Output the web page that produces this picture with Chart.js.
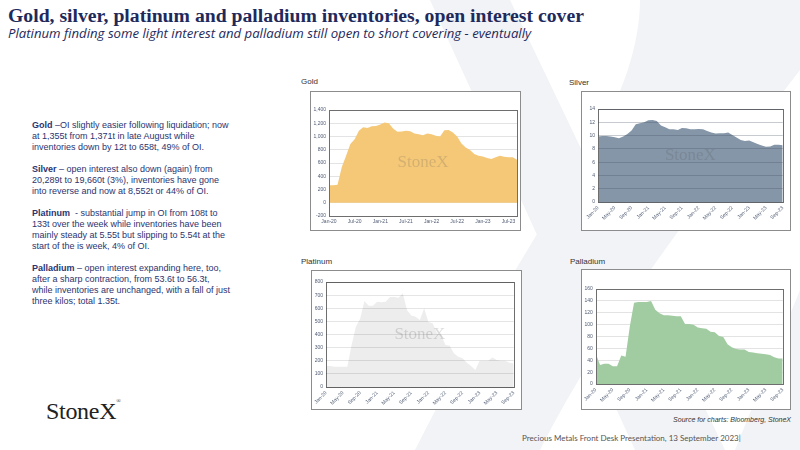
<!DOCTYPE html>
<html>
<head>
<meta charset="utf-8">
<script src="https://cdn.jsdelivr.net/npm/chart.js@4.4.0/dist/chart.umd.min.js"></script>
<style>
    body { margin: 0; width: 800px; height: 450px; overflow: hidden; background: #fff; position: relative; font-family: "Liberation Sans", Arial, sans-serif; }
    #bg { position: absolute; left: 0; top: 0; }
    .title { position: absolute; left: 8px; top: 4px; line-height: 20px; font: bold 19.7px "Liberation Serif", serif; color: #1e2a5c; white-space: nowrap; }
    .sub { position: absolute; left: 8px; top: 24px; line-height: 15px; font: italic 13.2px "Open Sans", sans-serif; color: #1e2a5c; white-space: nowrap; }
    .notes { position: absolute; left: 32px; top: 120px; font-size: 9px; line-height: 11px; color: #2b3470; white-space: nowrap; }
    .notes p { margin: 0 0 11px 0; }
    .lbl { position: absolute; font-size: 8px; color: #333; }
    .frame { position: absolute; border: 1px solid #8c8c8c; background: #fff; }
    .frame canvas { position: absolute; left: 0; top: 0; }
    .logo { position: absolute; left: 46px; top: 398px; font: 24px "Liberation Serif", serif; color: #222; letter-spacing: -0.3px; }
    .logo sup { font-size: 6px; vertical-align: top; }
    .source { position: absolute; right: 9px; top: 416px; font: italic 7px "Liberation Sans", sans-serif; color: #333; }
    .footer { position: absolute; left: 522px; top: 433px; font: 8px Lato, sans-serif; color: #555; }
</style>
</head>
<body>
<svg id="bg" width="800" height="450">
    <polygon points="430,0 510,0 725,450 635,450" fill="#f2f3f6"/>
    <path d="M640 0 L800 0 L800 70 C700 200 600 330 540 450 L415 450 C480 320 560 200 600 130 C625 90 640 40 640 0 Z" fill="#f2f3f6"/>
    <polygon points="800,290 800,450 735,450" fill="#f2f3f6"/>
</svg>

<div class="title">Gold, silver, platinum and palladium inventories, open interest cover</div>
<div class="sub">Platinum finding some light interest and palladium still open to short covering - eventually</div>

<div class="notes">
    <p><b>Gold</b> –OI slightly easier following liquidation; now<br>at 1,355t from 1,371t in late August while<br>inventories down by 12t to 658t, 49% of OI.</p>
    <p><b>Silver</b> – open interest also down (again) from<br>20,289t to 19,660t (3%), inventories have gone<br>into reverse and now at 8,552t or 44% of OI.</p>
    <p><b>Platinum</b>&nbsp; - substantial jump in OI from 108t to<br>133t over the week while inventories have been<br>mainly steady at 5.55t but slipping to 5.54t at the<br>start of the is week, 4% of OI.</p>
    <p><b>Palladium</b> – open interest expanding here, too,<br>after a sharp contraction, from 53.6t to 56.3t,<br>while inventories are unchanged, with a fall of just<br>three kilos; total 1.35t.</p>
</div>

<div class="lbl" style="left:301px;top:77px">Gold</div>
<div class="lbl" style="left:569px;top:78px">Silver</div>
<div class="lbl" style="left:301px;top:257px">Platinum</div>
<div class="lbl" style="left:570px;top:257px">Palladium</div>

<div class="frame" style="left:310px;top:91px;width:209px;height:138px"><canvas id="goldChart" width="209" height="138"></canvas></div>
<div class="frame" style="left:581px;top:91px;width:208px;height:138px"><canvas id="silverChart" width="208" height="138"></canvas></div>
<div class="frame" style="left:311px;top:270px;width:209px;height:138px"><canvas id="platinumChart" width="209" height="138"></canvas></div>
<div class="frame" style="left:581px;top:269px;width:208px;height:139px"><canvas id="palladiumChart" width="208" height="139"></canvas></div>

<div class="logo">StoneX<sup>®</sup></div>
<div class="source">Source for charts: Bloomberg, StoneX</div>
<div class="footer">Precious Metals Front Desk Presentation, 13 September 2023|</div>

<script>
    const months = [
        "Jan-20", "Feb-20", "Mar-20", "Apr-20", "May-20", "Jun-20", "Jul-20", "Aug-20", "Sep-20", "Oct-20", "Nov-20", "Dec-20",
        "Jan-21", "Feb-21", "Mar-21", "Apr-21", "May-21", "Jun-21", "Jul-21", "Aug-21", "Sep-21", "Oct-21", "Nov-21", "Dec-21",
        "Jan-22", "Feb-22", "Mar-22", "Apr-22", "May-22", "Jun-22", "Jul-22", "Aug-22", "Sep-22", "Oct-22", "Nov-22", "Dec-22",
        "Jan-23", "Feb-23", "Mar-23", "Apr-23", "May-23", "Jun-23", "Jul-23", "Aug-23", "Sep-23"
    ];

    // inventories, tonnes
    const gold = [265, 265, 270, 540, 710, 885, 960, 1085, 1140, 1130, 1155, 1160, 1180, 1210, 1200, 1120, 1070, 1075, 1085, 1080, 1045, 1035, 1020, 1045, 1035, 1010, 1000, 1095, 1100, 1060, 1000, 895, 835, 795, 735, 710, 700, 675, 660, 685, 710, 695, 685, 685, 650];
    const silver = [9.85, 9.95, 9.95, 9.85, 9.75, 9.6, 9.85, 10.25, 10.75, 11.7, 11.85, 12.0, 12.3, 12.35, 12.2, 11.5, 11.25, 10.95, 10.95, 10.85, 11.15, 11.1, 10.95, 10.95, 11.0, 10.95, 10.7, 10.45, 10.3, 10.35, 10.35, 10.45, 10.1, 9.7, 9.35, 9.2, 9.25, 9.0, 8.75, 8.5, 8.3, 8.35, 8.6, 8.6, 8.55];
    const platinum = [160, 160, 155, 155, 155, 155, 320, 460, 520, 655, 620, 620, 650, 645, 650, 685, 685, 680, 715, 585, 545, 535, 510, 600, 495, 485, 410, 395, 320, 315, 255, 230, 220, 185, 160, 130, 200, 200, 200, 225, 205, 200, 200, 185, 180];
    const palladium = [51, 32, 34, 34, 30, 30, 48, 46, 97, 137, 138, 138, 138, 140, 125, 119, 116, 116, 115, 114, 114, 101, 101, 100, 95, 94, 93, 88, 87, 81, 79, 67, 62, 59, 58, 58, 54, 53, 52, 51, 50, 49, 45, 43, 43];

    const tickColor = "#4f5b73";

    const plotFrame = {
        id: "plotFrame",
        afterDatasetsDraw(chart, args, opts) {
            const a = chart.chartArea;
            const ctx = chart.ctx;
            ctx.save();
            if (opts.watermark) {
                ctx.font = '17px "Liberation Serif", serif';
                ctx.fillStyle = "rgba(80,80,80,0.2)";
                ctx.textAlign = "center";
                ctx.textBaseline = "middle";
                ctx.fillText("StoneX", (a.left + a.right) / 2, (a.top + a.bottom) / 2);
            }
            ctx.strokeStyle = "#6e6e6e";
            ctx.lineWidth = 1;
            ctx.strokeRect(Math.round(a.left) + 0.5, Math.round(a.top) + 0.5, Math.round(a.right - a.left), Math.round(a.bottom - a.top));
            ctx.restore();
        }
    };

    function makeChart(id, values, o) {
        return new Chart(document.getElementById(id), {
            type: "line",
            data: {
                labels: months,
                datasets: [{ data: values, fill: "origin", backgroundColor: o.color, borderWidth: 0, pointRadius: 0, tension: 0 }]
            },
            options: {
                responsive: false,
                animation: false,
                events: [],
                layout: { padding: o.padding },
                plugins: { legend: { display: false }, tooltip: { enabled: false }, plotFrame: { watermark: o.watermark } },
                scales: {
                    x: {
                        grid: { display: false, drawTicks: false },
                        border: { display: false },
                        ticks: {
                            autoSkip: false,
                            minRotation: o.rotate,
                            maxRotation: o.rotate,
                            padding: 3,
                            color: tickColor,
                            font: { size: 5, family: "Liberation Sans" },
                            callback: (v, i) => i % o.every === 0 ? months[i] : null
                        },
                        afterFit: scale => { scale.height = o.xHeight; }
                    },
                    y: {
                        min: o.min,
                        max: o.max,
                        ticks: { stepSize: o.step, padding: 3, color: tickColor, font: { size: 5, family: "Liberation Sans" } },
                        grid: { color: o.gridColor, drawTicks: false, z: o.gridZ },
                        border: { display: false },
                        afterFit: scale => { scale.width = o.yWidth; }
                    }
                }
            },
            plugins: [plotFrame]
        });
    }

    makeChart("goldChart", gold, {
        color: "#f5c878", min: -200, max: 1400, step: 200, every: 6, rotate: 0,
        padding: { left: 2, right: 3, top: 18, bottom: 2 }, yWidth: 16, xHeight: 12,
        gridColor: "#e3e3e3", gridZ: 0, watermark: true
    });
    makeChart("silverChart", silver, {
        color: "#8596a8", min: 0, max: 14, step: 2, every: 4, rotate: 45,
        padding: { left: 1, right: 7, top: 17, bottom: 2 }, yWidth: 15, xHeight: 26,
        gridColor: "rgba(70,80,95,0.3)", gridZ: 1, watermark: true
    });
    makeChart("platinumChart", platinum, {
        color: "#ededed", min: 0, max: 800, step: 100, every: 4, rotate: 45,
        padding: { left: 1, right: 7, top: 11, bottom: 2 }, yWidth: 13, xHeight: 20,
        gridColor: "rgba(0,0,0,0.1)", gridZ: 1, watermark: true
    });
    makeChart("palladiumChart", palladium, {
        color: "#a1cba1", min: 0, max: 160, step: 20, every: 4, rotate: 45,
        padding: { left: 1, right: 7, top: 19, bottom: 2 }, yWidth: 12, xHeight: 23,
        gridColor: "#e3e3e3", gridZ: 0, watermark: false
    });
</script>
</body>
</html>
